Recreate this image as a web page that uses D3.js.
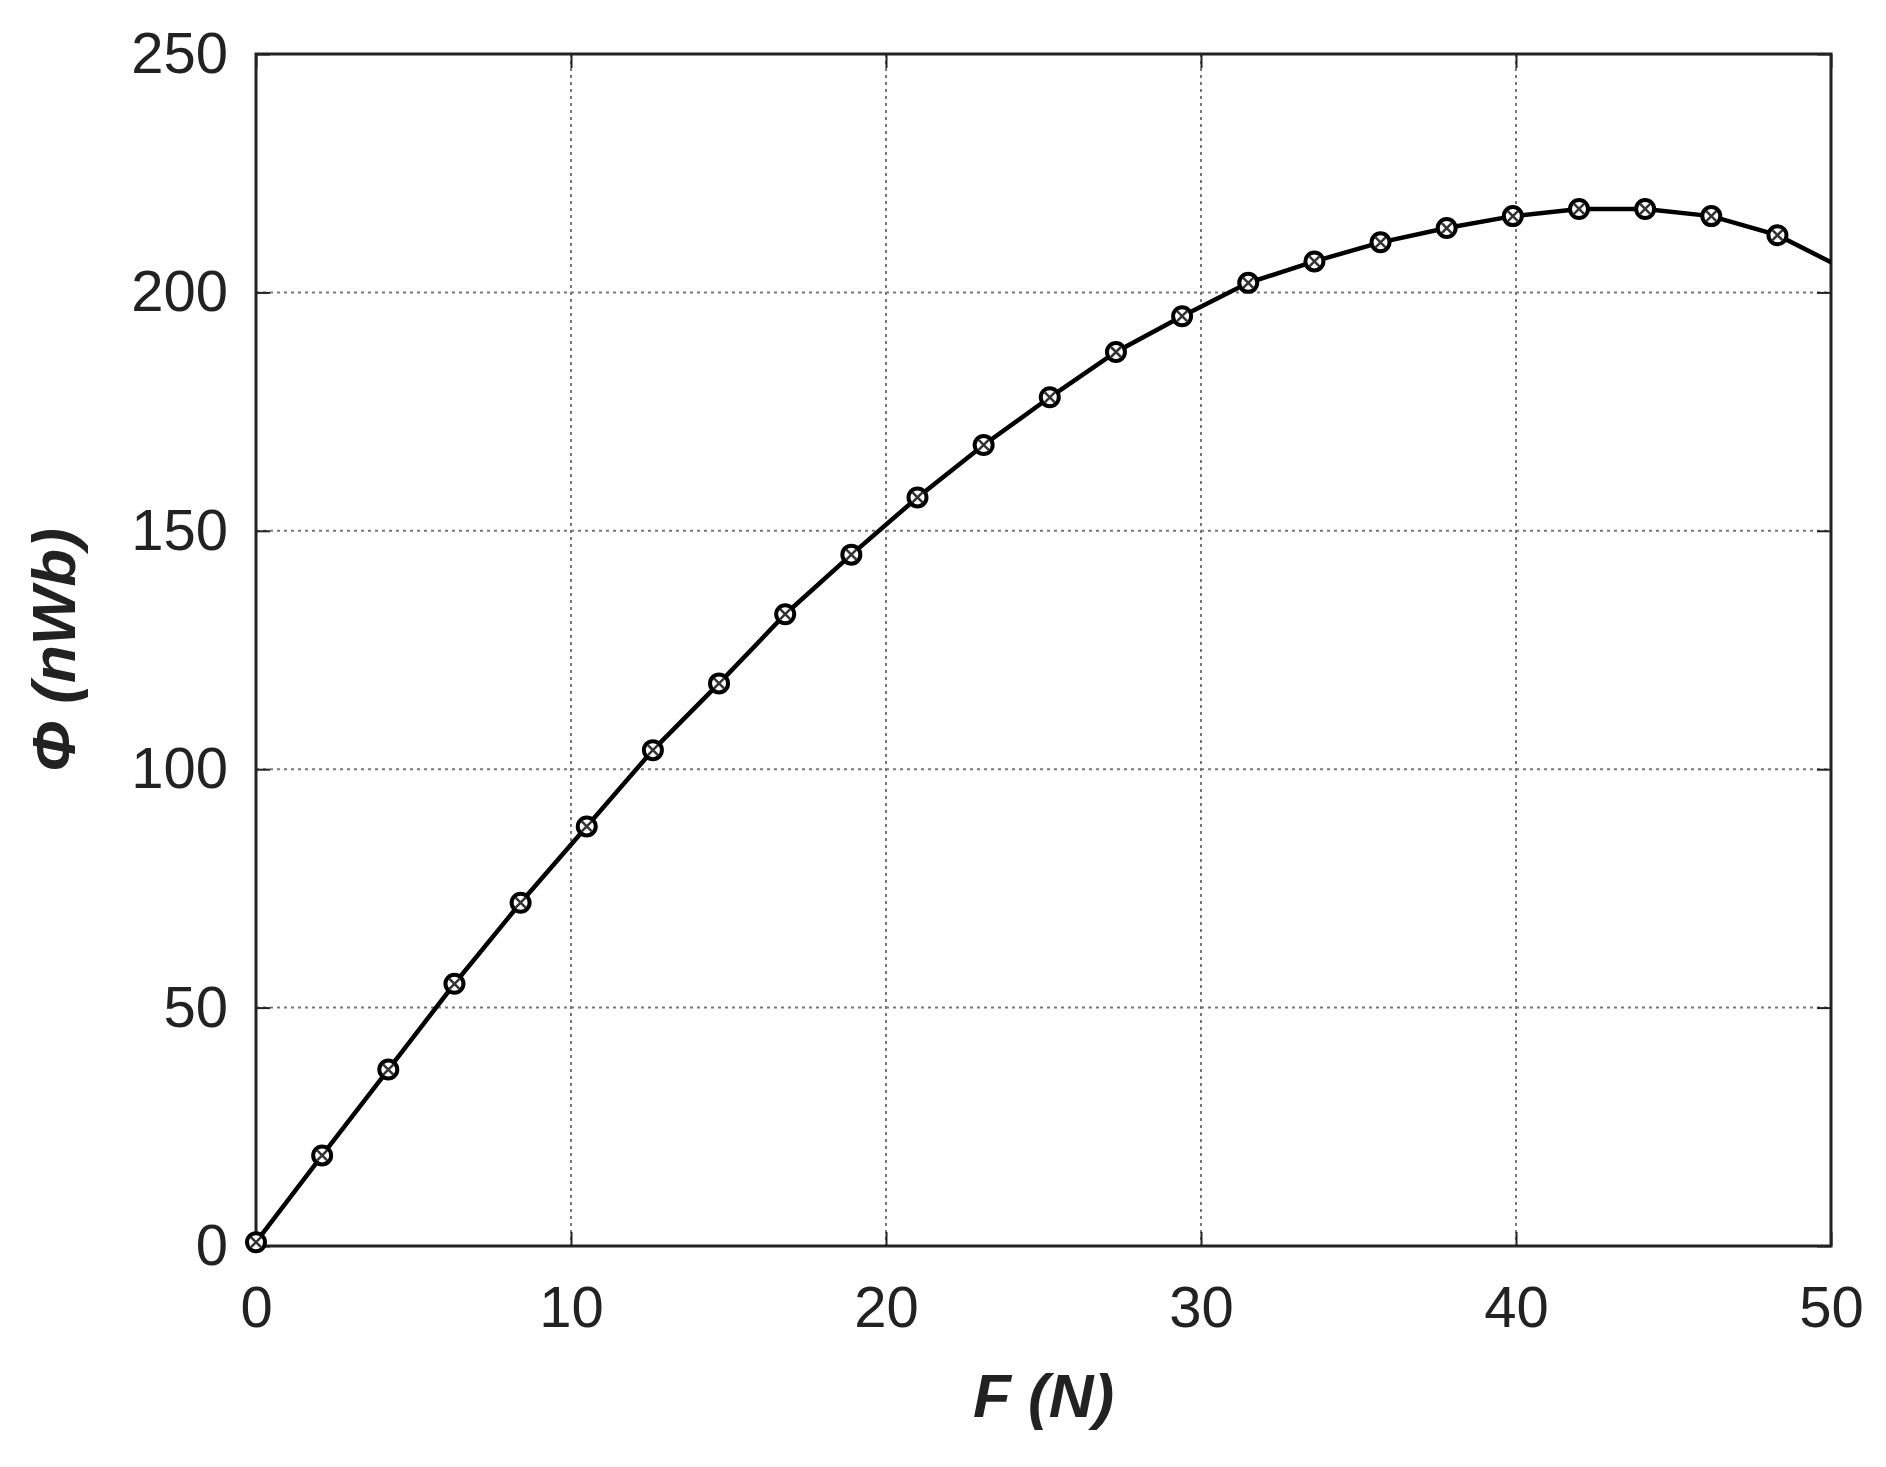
<!DOCTYPE html>
<html>
<head>
<meta charset="utf-8">
<script src="https://d3js.org/d3.v7.min.js"></script>
<style>body{margin:0;background:#fff}</style>
</head>
<body>
<div id="chart"></div>
<script>
// data
var forceN = [0, 2.1, 4.2, 6.3, 8.4, 10.5, 12.6, 14.7, 16.8, 18.9, 21, 23.1, 25.2, 27.3,
              29.4, 31.5, 33.6, 35.7, 37.8, 39.9, 42, 44.1, 46.2, 48.3, 50.4];
var fluxNWb = [0.8, 19, 37, 55, 72, 88, 104, 118, 132.5, 145, 157, 168, 178, 187.5,
               195, 202, 206.5, 210.5, 213.5, 216, 217.5, 217.5, 216, 212, 205];
var xTicks = [0, 10, 20, 30, 40, 50];
var yTicks = [0, 50, 100, 150, 200, 250];

var W = 1886, H = 1467;
var m = {left: 256, right: 55, top: 54, bottom: 221};
var w = W - m.left - m.right, h = H - m.top - m.bottom;

var svg = d3.select("#chart").append("svg").attr("width", W).attr("height", H);
var g = svg.append("g").attr("transform", "translate(" + m.left + "," + m.top + ")");

var x = d3.scaleLinear().domain([0, 50]).range([0, w]);
var y = d3.scaleLinear().domain([0, 250]).range([h, 0]);

g.append("defs").append("clipPath").attr("id", "clip")
  .append("rect").attr("x", -20).attr("y", -20).attr("width", w + 20).attr("height", h + 40);

// grid
g.selectAll(".gx").data(xTicks.slice(1, -1)).enter().append("line")
  .attr("x1", d => x(d)).attr("x2", d => x(d)).attr("y1", 0).attr("y2", h)
  .attr("stroke", "#777").attr("stroke-width", 2).attr("stroke-dasharray", "3,4");
g.selectAll(".gy").data(yTicks.slice(1, -1)).enter().append("line")
  .attr("y1", d => y(d)).attr("y2", d => y(d)).attr("x1", 0).attr("x2", w)
  .attr("stroke", "#777").attr("stroke-width", 2).attr("stroke-dasharray", "3,4");

// axes with inward ticks
var fs = "58px";
var ax = g.append("g").attr("transform", "translate(0," + h + ")")
  .call(d3.axisBottom(x).tickValues(xTicks).tickSize(-14).tickPadding(40));
var ay = g.append("g")
  .call(d3.axisLeft(y).tickValues(yTicks).tickSize(-14).tickPadding(28));
var ay2 = g.append("g").attr("transform", "translate(" + w + ",0)")
  .call(d3.axisRight(y).tickValues(yTicks).tickSize(-14).tickFormat(""));
var ax2 = g.append("g")
  .call(d3.axisTop(x).tickValues(xTicks).tickSize(-14).tickFormat(""));
[ax, ay, ay2, ax2].forEach(a => {
  a.selectAll("path").remove();
  a.selectAll("line").attr("stroke", "#222").attr("stroke-width", 2);
  a.selectAll("text").attr("font-family", "Liberation Sans, Arial, sans-serif")
    .attr("font-size", fs).attr("fill", "#222");
});
g.append("rect").attr("width", w).attr("height", h).attr("fill", "none")
  .attr("stroke", "#222").attr("stroke-width", 3);

// line + markers
var pts = forceN.map((f, i) => [f, fluxNWb[i]]);
g.append("path").datum(pts).attr("clip-path", "url(#clip)")
  .attr("fill", "none").attr("stroke", "#000").attr("stroke-width", 4.5)
  .attr("d", d3.line().x(d => x(d[0])).y(d => y(d[1])));
var mk = g.selectAll(".mk").data(pts.filter(d => d[0] <= 50)).enter().append("g")
  .attr("transform", d => "translate(" + x(d[0]) + "," + y(d[1]) + ")");
mk.append("circle").attr("r", 9).attr("fill", "#fff").attr("stroke", "#000").attr("stroke-width", 4);
mk.append("path").attr("d", "M-5,-5L5,5M-5,5L5,-5").attr("stroke", "#333").attr("stroke-width", 2.5);

// titles
svg.append("text").attr("x", m.left + w / 2).attr("y", H - 50).attr("text-anchor", "middle")
  .attr("font-family", "Liberation Sans, Arial, sans-serif").attr("font-size", "62px")
  .attr("font-weight", "bold").attr("font-style", "italic").attr("fill", "#222").text("F (N)");
svg.append("text").attr("transform", "translate(75," + (m.top + h / 2) + ") rotate(-90)")
  .attr("text-anchor", "middle")
  .attr("font-family", "Liberation Sans, Arial, sans-serif").attr("font-size", "62px")
  .attr("font-weight", "bold").attr("font-style", "italic").attr("fill", "#222").text("Φ (nWb)");
</script>
</body>
</html>
